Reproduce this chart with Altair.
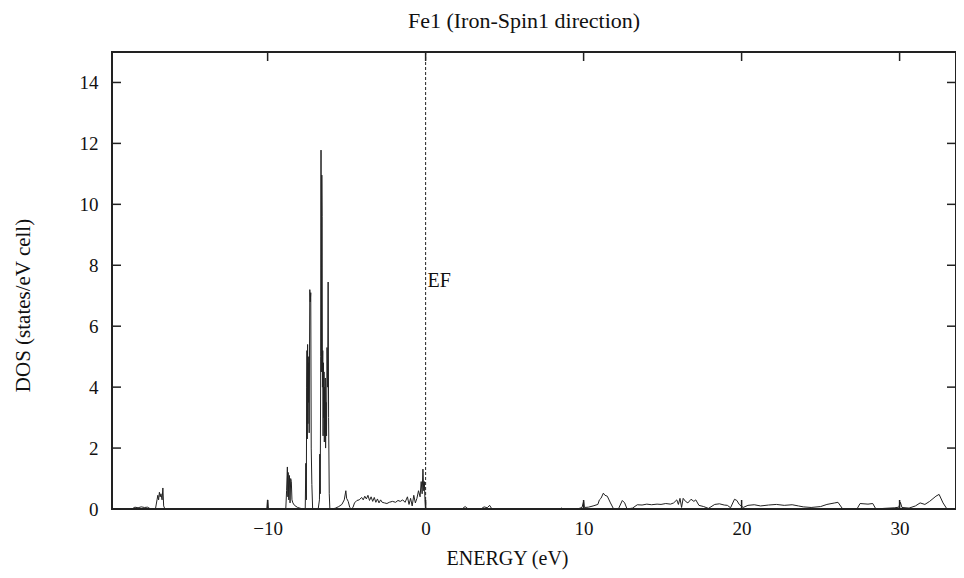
import altair as alt
import pandas as pd

# Energy (eV) and DOS (states/eV cell)
energy = [
    -19.85, -18.6, -18.4, -18.2, -18.0, -17.8, -17.6, -17.4, -17.1, -17.0, -16.95, -16.9, -16.85,
    -16.8, -16.75, -16.68, -16.63, -16.58, -16.5,
    -10.05, -10.0, -9.95, -8.85, -8.8, -8.75, -8.72, -8.7, -8.66, -8.62, -8.58, -8.54, -8.5,
    -8.46, -8.4, -8.3, -8.1, -7.9, -7.7,
    -7.62, -7.58, -7.55, -7.53, -7.51, -7.49, -7.47, -7.45, -7.43, -7.41, -7.39, -7.37, -7.33,
    -7.3, -7.27, -7.24, -7.2, -7.15, -7.1,
    -6.8, -6.72, -6.7, -6.67, -6.64, -6.62, -6.6, -6.57, -6.55, -6.53, -6.51, -6.49, -6.47,
    -6.45, -6.43, -6.41, -6.39, -6.37, -6.35, -6.33, -6.3, -6.27, -6.24, -6.2, -6.17, -6.14,
    -6.1, -6.06,
    -5.9, -5.7, -5.5, -5.3, -5.15, -5.05, -5.0, -4.9, -4.8, -4.7, -4.6, -4.5, -4.35, -4.2,
    -4.05, -3.95, -3.85, -3.75, -3.65, -3.55, -3.45, -3.35, -3.25, -3.15, -3.05, -2.95, -2.85,
    -2.75, -2.6, -2.45, -2.3, -2.1, -1.9, -1.75, -1.6, -1.45, -1.3, -1.15, -1.05, -0.95, -0.85,
    -0.75, -0.65, -0.55, -0.45, -0.35, -0.28, -0.22, -0.17, -0.12, -0.08, -0.04, 0.0,
    2.3, 2.5, 2.7, 3.5, 3.7, 3.9, 4.05, 4.2, 8.5, 8.6, 8.7,
    9.6, 9.9, 10.0, 10.05, 10.3, 10.6, 10.9, 11.0, 11.1, 11.25, 11.35, 11.5, 11.7, 11.9, 12.2,
    12.45, 12.6, 12.75, 13.1, 13.4, 13.7, 14.0, 14.3, 14.65, 14.9, 15.2, 15.5, 15.7, 15.9,
    16.0, 16.1, 16.2, 16.3, 16.45, 16.6, 16.8, 16.98, 17.1, 17.3, 17.6, 17.9, 18.3, 18.6,
    18.9, 19.1, 19.3, 19.55, 19.7, 19.85, 20.1, 20.4, 20.8, 21.2, 21.7, 22.2, 22.7, 23.2,
    23.6, 23.9, 24.4, 25.0, 25.4, 25.9, 26.1, 26.4, 27.3, 27.5, 28.0, 28.3, 28.5, 29.0,
    29.7, 29.95, 30.05, 30.15, 30.6, 31.0, 31.3, 31.6, 31.9, 32.3, 32.5, 32.75, 33.0, 33.55,
]
dos = [
    0.0, 0.0, 0.06, 0.04, 0.07, 0.05, 0.06, 0.0, 0.0, 0.3, 0.45, 0.3, 0.55,
    0.4, 0.5, 0.3, 0.69, 0.1, 0.0,
    0.0, 0.3, 0.0, 0.0, 0.6, 1.38, 0.4, 1.2, 0.3, 1.1, 0.2, 1.0, 0.9,
    0.3, 0.2, 0.12, 0.05, 0.02, 0.0,
    0.0, 1.5, 0.3, 4.0, 5.2, 2.3, 5.4, 2.8, 5.0, 3.5, 4.8, 2.5, 7.2,
    6.8, 7.1, 2.0, 0.8, 0.0, 0.0,
    0.0, 0.3, 1.8, 0.5, 5.0, 11.78, 4.5, 10.96, 9.6, 4.0, 5.2, 2.4, 4.8,
    3.0, 4.5, 2.2, 4.0, 2.5, 4.3, 2.0, 3.5, 2.4, 5.3, 4.0, 7.45, 3.0,
    0.5, 0.0,
    0.0, 0.03, 0.08, 0.15, 0.3, 0.6, 0.35, 0.25, 0.05, 0.0, 0.05, 0.2, 0.28, 0.3,
    0.38, 0.3, 0.42, 0.33, 0.45, 0.28, 0.4, 0.25, 0.38, 0.22, 0.33, 0.2, 0.3,
    0.22, 0.2, 0.18, 0.22, 0.25, 0.22, 0.28, 0.25, 0.3, 0.22, 0.4, 0.15, 0.35, 0.1,
    0.45, 0.2, 0.35, 0.6, 0.4, 0.9, 0.5, 1.31, 0.6, 0.9, 0.3, 0.0,
    0.0, 0.08, 0.0, 0.0, 0.07, 0.04, 0.12, 0.0, 0.0, 0.03, 0.0,
    0.0, 0.05, 0.25, 0.05, 0.06, 0.1, 0.15, 0.3, 0.35, 0.52, 0.45, 0.42, 0.2, 0.0, 0.0,
    0.28, 0.2, 0.0, 0.03, 0.14, 0.13, 0.16, 0.14, 0.16, 0.15, 0.18, 0.16, 0.2, 0.3,
    0.15, 0.35, 0.05, 0.35, 0.25, 0.2, 0.32, 0.25, 0.3, 0.12, 0.08, 0.02, 0.15, 0.17,
    0.13, 0.12, 0.04, 0.32, 0.28, 0.15, 0.05, 0.12, 0.14, 0.1, 0.13, 0.15, 0.12, 0.14,
    0.1, 0.07, 0.05, 0.08, 0.15, 0.2, 0.22, 0.0, 0.0, 0.18, 0.16, 0.18, 0.0, 0.02,
    0.04, 0.06, 0.22, 0.05, 0.03, 0.1, 0.2, 0.15, 0.25, 0.42, 0.48, 0.2, 0.0, 0.0,
]

x_ticks = [-10, 0, 10, 20, 30]
y_ticks = [0, 2, 4, 6, 8, 10, 12, 14]
x_domain = [-19.85, 33.57]
y_domain = [0, 15]
chart_title = "Fe1 (Iron-Spin1 direction)"

W, H = 844, 457
FONT = "Liberation Serif"

df = pd.DataFrame({"E": energy, "DOS": dos})
df["idx"] = range(len(df))
xt = pd.DataFrame({"E": x_ticks})
yt = pd.DataFrame({"DOS": y_ticks})
ef = pd.DataFrame({"E": [0.0], "DOS": [7.5], "label": ["EF"]})
tt = pd.DataFrame({"t": [chart_title]})

xs = alt.Scale(domain=x_domain, nice=False, zero=False)
ys = alt.Scale(domain=y_domain, nice=False)

x_axis = alt.Axis(values=x_ticks, title="ENERGY (eV)", ticks=False, domain=False,
                  grid=False, labelPadding=10, labelFontSize=19, labelFont=FONT,
                  labelColor="#111", titleFont=FONT, titleFontSize=20,
                  titleFontWeight="normal", titleColor="#111",
                  titleX=395, titleY=49, titleAlign="center", titleBaseline="middle")
y_axis = alt.Axis(values=y_ticks, title="DOS (states/eV cell)", ticks=False,
                  domain=False, grid=False, labelPadding=14, labelFontSize=19,
                  labelFont=FONT, labelColor="#111", titleFont=FONT,
                  titleFontSize=21, titleFontWeight="normal", titleColor="#111",
                  titleAngle=270, titleX=-89, titleY=253, titleAlign="center",
                  titleBaseline="middle")

X = alt.X("E:Q", scale=xs, axis=x_axis)
Y = alt.Y("DOS:Q", scale=ys, axis=y_axis)

line = alt.Chart(df).mark_line(color="#222222", strokeWidth=1).encode(
    x=X, y=Y, order="idx:Q")

ef_rule = alt.Chart(ef).mark_rule(color="#222222", strokeWidth=1, strokeDash=[3, 2]).encode(
    x=X, y=alt.value(0), y2=alt.value(H))
ef_text = alt.Chart(ef).mark_text(align="left", baseline="middle", dx=2, font=FONT,
                                  fontSize=20, color="#111").encode(
    x=X, y=Y, text="label:N")

title_text = alt.Chart(tt).mark_text(align="center", baseline="middle", font=FONT,
                                     fontSize=22, color="#111").encode(
    x=alt.value(W / 2 - 10), y=alt.value(-31), text="t:N")

tick_style = dict(color="#222222", strokeWidth=1.5)
xb = alt.Chart(xt).mark_rule(**tick_style).encode(x=X, y=alt.value(H), y2=alt.value(H - 9))
xtop = alt.Chart(xt).mark_rule(**tick_style).encode(x=X, y=alt.value(0), y2=alt.value(9))
yl = alt.Chart(yt).mark_rule(**tick_style).encode(y=Y, x=alt.value(0), x2=alt.value(9))
yr = alt.Chart(yt).mark_rule(**tick_style).encode(y=Y, x=alt.value(W - 9), x2=alt.value(W))

chart = alt.layer(line, ef_rule, ef_text, xb, xtop, yl, yr, title_text).properties(
    width=W, height=H,
    autosize=alt.AutoSizeParams(type="none"),
    padding={"left": 104, "top": 44, "right": 0, "bottom": 61},
).configure_view(stroke="#222222", strokeWidth=2)

chart.save("out.html", embed_options={"renderer": "svg", "actions": False})
